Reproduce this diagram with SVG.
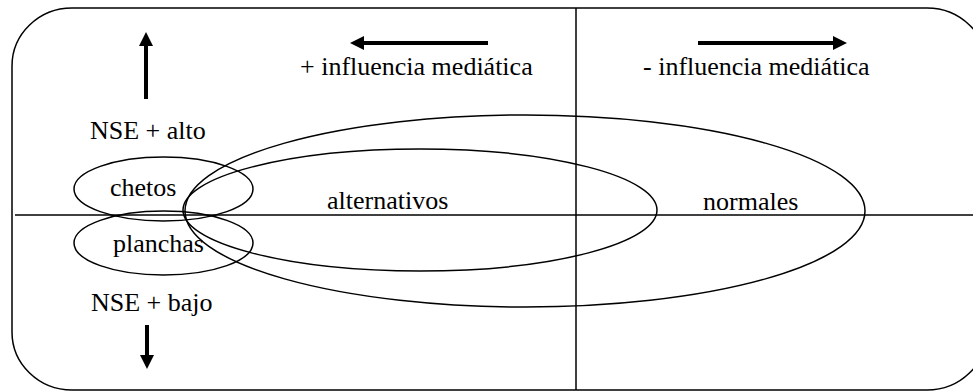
<svg xmlns="http://www.w3.org/2000/svg" width="973" height="391" viewBox="0 0 973 391">
<style>
.ln{fill:none;stroke:#000;stroke-width:1.5}
.ar{fill:none;stroke:#000;stroke-width:4}
.t{font-family:"Liberation Serif","Times New Roman",serif;font-size:26px;fill:#000}
</style>
<defs>
<marker id="ah" markerWidth="3.5" markerHeight="3.5" refX="0.5" refY="1.75" orient="auto" markerUnits="strokeWidth">
<path d="M0,0 L3.5,1.75 L0,3.5 Z" fill="#000"/>
</marker>
</defs>
<rect width="973" height="391" fill="#fff"/>
<g id="frame">
<rect class="ln" x="12" y="8" width="975" height="382" rx="60" ry="58"/>
</g>
<g id="connectors">
<line class="ln" x1="576" y1="8" x2="576" y2="390"/>
<line class="ln" x1="15" y1="215" x2="973" y2="215"/>
<line class="ar" x1="146" y1="99" x2="146" y2="44" marker-end="url(#ah)"/>
<line class="ar" x1="147" y1="325" x2="147" y2="357" marker-end="url(#ah)"/>
<line class="ar" x1="488" y1="43" x2="362" y2="43" marker-end="url(#ah)"/>
<line class="ar" x1="698" y1="43" x2="835" y2="43" marker-end="url(#ah)"/>
</g>
<g id="labels" class="t">
<text x="300" y="75">+ influencia mediática</text>
<text x="643" y="75">- influencia mediática</text>
<text x="90" y="139">NSE + alto</text>
<text x="91" y="311">NSE + bajo</text>
</g>
<g id="chetos" class="t">
<ellipse class="ln" cx="163.5" cy="189" rx="89.5" ry="32"/>
<text x="110" y="196">chetos</text>
</g>
<g id="planchas" class="t">
<ellipse class="ln" cx="163.5" cy="243" rx="89.5" ry="32"/>
<text x="113" y="252">planchas</text>
</g>
<g id="alternativos" class="t">
<ellipse class="ln" cx="420" cy="210" rx="237" ry="61"/>
<text x="327" y="209">alternativos</text>
</g>
<g id="normales" class="t">
<ellipse class="ln" cx="525" cy="211" rx="340" ry="96"/>
<text x="703" y="210">normales</text>
</g>
</svg>
